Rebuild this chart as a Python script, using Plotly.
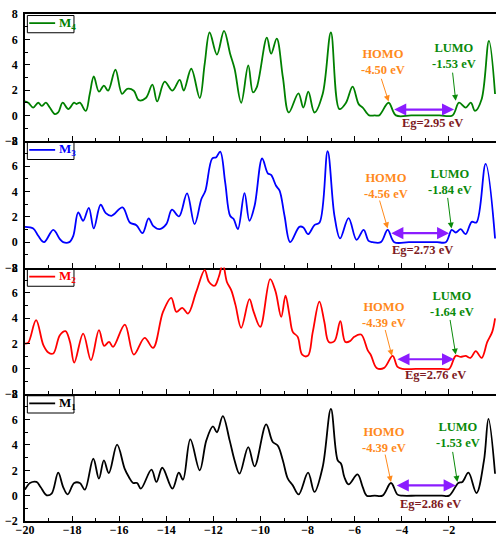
import plotly.graph_objects as go
from plotly.subplots import make_subplots

# ---------------- data ----------------
energy_M4 = [-20.00, -19.86, -19.65, -19.44, -19.29, -19.11, -18.94, -18.73, -18.59, -18.40,
             -18.16, -17.92, -17.81, -17.67, -17.42, -17.25, -17.08, -16.86, -16.65, -16.47,
             -16.16, -15.88, -15.66, -15.38, -15.17, -14.87, -14.59, -14.39, -14.07, -13.74,
             -13.43, -13.26, -12.94, -12.58, -12.37, -12.16, -11.85, -11.55, -11.29, -11.10,
             -10.82, -10.52, -10.32, -10.16, -9.73, -9.55, -9.31, -9.05, -8.80, -8.39,
             -8.18, -7.97, -7.71, -7.36, -7.01, -6.65, -6.37, -6.09, -5.83, -5.66,
             -5.38, -5.15, -4.96, -4.56, -4.25, -3.6, -3.0, -2.4, -1.85, -1.57,
             -1.29, -1.07, -0.89, -0.61, -0.30, -0.04]
dos_M4 = [1.10, 1.00, 0.62, 1.00, 0.75, 1.00, 0.60, 0.10, 0.23, 1.00,
          0.50, 1.00, 0.90, 1.00, 0.35, 1.69, 3.07, 1.87, 2.35, 1.95,
          3.60, 1.70, 2.10, 1.95, 1.20, 1.37, 2.43, 1.10, 2.67, 1.95,
          2.80, 1.95, 3.68, 1.37, 4.07, 6.54, 4.80, 6.67, 4.87, 3.68,
          1.00, 3.94, 1.82, 2.22, 6.14, 4.87, 6.06, 3.01, 0.23, 1.74,
          0.62, 1.87, 0.23, 1.69, 6.54, 0.50, 1.00, 2.27, 0.89, 0.62,
          0.00, 0.00, 0.00, 1.00, 0.00, 0.00, 0.00, 0.00, 0.00, 1.00,
          0.62, 1.00, 0.35, 1.28, 5.88, 1.69]

energy_M3 = [-20.00, -19.65, -19.44, -19.19, -18.80, -18.52, -18.38, -18.12, -17.95, -17.74,
             -17.53, -17.29, -17.08, -16.79, -16.57, -16.33, -15.86, -15.55, -15.27, -15.01,
             -14.75, -14.56, -14.28, -14.00, -13.76, -13.46, -13.12, -12.80, -12.51, -12.34,
             -12.05, -11.88, -11.71, -11.50, -11.29, -11.14, -10.96, -10.68, -10.47, -10.25,
             -9.93, -9.69, -9.55, -9.34, -9.19, -8.98, -8.74, -8.35, -8.18, -7.98,
             -7.71, -7.49, -7.15, -6.86, -6.62, -6.26, -5.92, -5.62, -5.41, -5.24,
             -4.89, -4.60, -4.32, -3.7, -3.1, -2.5, -2.13, -1.88, -1.71, -1.50,
             -1.29, -1.03, -0.83, -0.44, -0.04]
dos_M3 = [1.21, 1.08, 0.50, 0.00, 0.97, 0.24, 0.00, 0.00, 0.50, 2.35,
          1.69, 2.71, 1.08, 2.95, 2.29, 2.08, 2.74, 1.55, 1.34, 0.71,
          1.87, 1.29, 1.03, 1.42, 2.56, 2.03, 3.85, 1.42, 3.40, 4.06,
          6.60, 6.70, 7.14, 4.72, 2.08, 1.82, 1.03, 3.87, 1.69, 2.87,
          6.60, 5.43, 5.30, 4.45, 4.06, 2.08, 0.00, 1.21, 1.16, 0.63,
          1.34, 1.55, 7.17, 2.08, 0.29, 1.90, 0.18, 0.97, 0.10, 0.00,
          0.00, 0.97, 0.00, 0.00, 0.00, 0.00, 0.00, 0.97, 0.76, 1.03,
          0.63, 1.60, 1.55, 6.17, 0.29]

energy_M2 = [-20.00, -19.86, -19.53, -19.22, -19.01, -18.80, -18.52, -18.28, -18.09, -17.91,
             -17.53, -17.20, -16.86, -16.64, -16.43, -16.26, -15.76, -15.38, -14.92, -14.56,
             -14.14, -13.79, -13.57, -13.32, -13.08, -12.73, -12.37, -12.19, -11.95, -11.77,
             -11.60, -11.43, -11.24, -11.06, -10.82, -10.47, -10.29, -10.01, -9.59, -9.36,
             -9.12, -8.94, -8.77, -8.63, -8.42, -8.23, -7.99, -7.78, -7.50, -7.29,
             -7.10, -6.86, -6.61, -6.40, -6.20, -6.02, -5.73, -5.45, -5.31, -5.07,
             -4.75, -4.39, -4.18, -3.97, -3.4, -2.8, -2.3, -1.99, -1.71, -1.50,
             -1.29, -1.08, -0.86, -0.61, -0.37, -0.16, -0.04]
dos_M2 = [2.00, 2.08, 3.85, 1.87, 1.29, 1.21, 2.66, 2.98, 2.13, 0.50,
          2.79, 0.69, 3.06, 1.82, 2.13, 1.74, 3.50, 1.13, 2.45, 1.66,
          4.50, 5.61, 4.50, 4.82, 4.37, 6.08, 7.80, 6.88, 6.56, 7.27,
          8.30, 6.88, 6.20, 5.03, 3.24, 5.50, 4.50, 3.32, 7.09, 6.10,
          4.10, 5.77, 4.24, 2.92, 2.53, 1.13, 1.03, 2.92, 5.30, 3.72,
          2.13, 2.19, 3.77, 2.13, 2.19, 2.53, 2.71, 1.48, 1.08, 0.08,
          0.08, 1.03, 0.16, 0.00, 0.00, 0.00, 0.00, 0.00, 1.03, 0.95,
          1.03, 0.87, 1.40, 0.87, 2.13, 2.92, 3.98]

energy_M1 = [-20.00, -19.79, -19.51, -19.34, -19.08, -18.87, -18.59, -18.38, -18.19, -17.91,
             -17.67, -17.46, -17.10, -16.86, -16.65, -16.44, -16.09, -15.77, -15.59, -15.41,
             -15.24, -15.08, -14.63, -14.42, -14.17, -13.74, -13.47, -13.29, -12.98, -12.58,
             -12.30, -12.02, -11.85, -11.60, -11.31, -11.10, -10.89, -10.52, -10.25, -9.76,
             -9.48, -9.27, -9.05, -8.84, -8.63, -8.38, -7.98, -7.71, -7.36, -7.01,
             -6.72, -6.58, -6.44, -6.26, -5.88, -5.66, -5.49, -5.15, -4.82, -4.46,
             -4.18, -3.97, -3.4, -2.8, -2.3, -1.99, -1.60, -1.43, -1.17, -0.83,
             -0.51, -0.32, -0.04]
dos_M1 = [0.47, 1.00, 1.08, 0.68, 0.03, 0.16, 1.81, 0.68, 0.10, 1.00,
          1.00, 0.47, 2.91, 1.34, 2.78, 1.78, 4.02, 2.13, 1.47, 1.00,
          1.00, 0.55, 2.05, 1.08, 2.20, 0.55, 1.81, 1.26, 4.44, 2.00,
          4.36, 5.46, 5.00, 6.27, 4.36, 2.78, 1.73, 3.83, 2.31, 5.62,
          4.23, 3.96, 2.78, 1.34, 0.81, 0.10, 1.81, 0.29, 2.26, 6.85,
          2.78, 2.52, 1.47, 0.89, 1.68, 0.68, 0.00, 0.00, 0.00, 1.00,
          0.08, 0.00, 0.00, 0.00, 0.00, 0.00, 1.00, 1.08, 1.81, 0.21,
          2.78, 6.06, 1.73]

series_names = ["M<sub>4</sub>", "M<sub>3</sub>", "M<sub>2</sub>", "M<sub>1</sub>"]
homo_ev = [-4.50, -4.56, -4.39, -4.39]
lumo_ev = [-1.53, -1.84, -1.64, -1.53]
gap_ev = [2.95, 2.73, 2.76, 2.86]
x_ticks = [-20, -18, -16, -14, -12, -10, -8, -6, -4, -2, 0]
y_ticks = [-2, 0, 2, 4, 6, 8]

energies = [energy_M4, energy_M3, energy_M2, energy_M1]
doses = [dos_M4, dos_M3, dos_M2, dos_M1]
colors = ["#008000", "#0000FF", "#FF0000", "#000000"]

# ---------------- annotation placement (style) ----------------
place = [
    dict(hx=-4.78, hy=4.2, lx=-1.80, ly=4.71,
         ha=(-4.89, 3.01, -4.56, 1.10), la=(-1.85, 3.49, -1.71, 1.15),
         g=(-4.39, -1.78, 0.46), eg=(-2.70, -0.57)),
    dict(hx=-4.67, hy=4.45, lx=-1.95, ly=4.76,
         ha=(-4.96, 3.40, -4.60, 1.08), la=(-2.06, 3.61, -1.89, 1.08),
         g=(-4.51, -1.99, 0.71), eg=(-3.12, -0.63)),
    dict(hx=-4.74, hy=4.28, lx=-1.88, ly=5.13,
         ha=(-4.72, 3.19, -4.42, 1.03), la=(-1.96, 3.98, -1.71, 1.13),
         g=(-4.25, -1.78, 0.76), eg=(-2.56, -0.50)),
    dict(hx=-4.74, hy=4.42, lx=-1.62, ly=4.75,
         ha=(-4.72, 3.36, -4.46, 1.08), la=(-1.85, 3.57, -1.64, 1.08),
         g=(-4.28, -1.71, 0.81), eg=(-2.77, -0.63)),
]

FONT = "Liberation Serif"
ORANGE = "#FF8A1C"
GREEN = "#0A8A0A"
PURPLE = "#8B1CFF"
MAROON = "#7D1A22"

fig = make_subplots(rows=4, cols=1, shared_xaxes=True, vertical_spacing=0)

for i in range(4):
    r = i + 1
    fig.add_trace(go.Scatter(x=energies[i], y=doses[i], mode="lines", name=series_names[i],
                             line=dict(color=colors[i], width=1.8, shape="spline", smoothing=1.0),
                             showlegend=False), row=r, col=1)

    xr = "x" if i == 0 else f"x{r}"
    yr = "y" if i == 0 else f"y{r}"
    xd = f"{xr} domain"
    yd = f"{yr} domain"

    # legend box drawn inside the panel's top-left corner
    fig.add_shape(type="rect", xref=xd, yref=yd, x0=0.005, x1=0.104, y0=0.852, y1=0.988,
                  line=dict(color="black", width=1), fillcolor="rgba(255,255,255,0)")
    fig.add_shape(type="line", xref=xd, yref=yd, x0=0.009, x1=0.064, y0=0.928, y1=0.928,
                  line=dict(color=colors[i], width=1.8))
    fig.add_annotation(x=0.068, y=0.928, xref=xd, yref=yd, xanchor="left", yanchor="middle",
                       showarrow=False, text=series_names[i],
                       font=dict(family=FONT, size=13, color=colors[i], weight="bold"))

    p = place[i]
    fig.add_annotation(x=p["hx"], y=p["hy"], xref=xr, yref=yr, showarrow=False,
                       text=f"HOMO<br>{homo_ev[i]:.2f} eV",
                       font=dict(family=FONT, size=12.5, color=ORANGE, weight="bold"))
    fig.add_annotation(x=p["lx"], y=p["ly"], xref=xr, yref=yr, showarrow=False,
                       text=f"LUMO<br>{lumo_ev[i]:.2f} eV",
                       font=dict(family=FONT, size=12.5, color=GREEN, weight="bold"))
    ax0, ay0, ax1, ay1 = p["ha"]
    fig.add_annotation(x=ax1, y=ay1, ax=ax0, ay=ay0, xref=xr, yref=yr, axref=xr, ayref=yr,
                       text="", showarrow=True, arrowhead=2, arrowsize=1.2, arrowwidth=1,
                       arrowcolor=ORANGE, standoff=0)
    bx0, by0, bx1, by1 = p["la"]
    fig.add_annotation(x=bx1, y=by1, ax=bx0, ay=by0, xref=xr, yref=yr, axref=xr, ayref=yr,
                       text="", showarrow=True, arrowhead=2, arrowsize=1.2, arrowwidth=1,
                       arrowcolor=GREEN, standoff=0)
    g0, g1, gy = p["g"]
    fig.add_annotation(x=g1, y=gy, ax=g0, ay=gy, xref=xr, yref=yr, axref=xr, ayref=yr,
                       text="", showarrow=True, arrowhead=2, startarrowhead=2, arrowside="end+start",
                       arrowsize=1.1, startarrowsize=1.1, arrowwidth=2.2, arrowcolor=PURPLE, standoff=0,
                       startstandoff=0)
    ex, ey = p["eg"]
    fig.add_annotation(x=ex, y=ey, xref=xr, yref=yr, showarrow=False,
                       text=f"Eg={gap_ev[i]:.2f} eV",
                       font=dict(family=FONT, size=12.5, color=MAROON, weight="bold"))

    fig.update_xaxes(row=r, col=1, range=[-20, 0], tickvals=x_ticks, showticklabels=(r == 4),
                     ticks="inside", ticklen=5, tickwidth=1.2, tickcolor="black",
                     minor=dict(dtick=1, tick0=0, ticks="inside", ticklen=3, tickwidth=1, tickcolor="black"),
                     showline=True, linecolor="black", linewidth=1.6, mirror=(r == 1),
                     showgrid=False, zeroline=False, automargin=False, ticklabelstandoff=-3,
                     tickfont=dict(family=FONT, size=12, color="black", weight="bold"))
    fig.update_yaxes(row=r, col=1, range=[-2, 8], tickvals=y_ticks,
                     ticks="inside", ticklen=5, tickwidth=1.2, tickcolor="black",
                     minor=dict(dtick=1, tick0=0, ticks="inside", ticklen=3, tickwidth=1, tickcolor="black"),
                     showline=True, linecolor="black", linewidth=1.6, mirror=False,
                     showgrid=False, zeroline=False, automargin=False, ticklabelstandoff=3,
                     tickfont=dict(family=FONT, size=12, color="black", weight="bold"))

fig.update_layout(width=496, height=534, margin=dict(l=25, r=0, t=14, b=13),
                  plot_bgcolor="white", paper_bgcolor="white", showlegend=False)

fig.write_html("out.html", config={"displayModeBar": False},
               post_script="document.body.style.margin='0';document.body.style.overflow='hidden';")
